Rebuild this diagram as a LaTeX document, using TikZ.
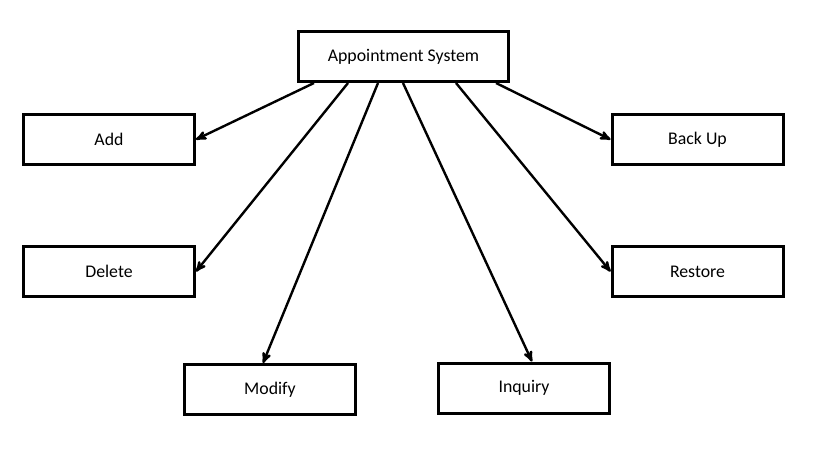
\documentclass[tikz,border=0pt]{standalone}
\usepackage{fontspec}
\setmainfont{Carlito}
\usetikzlibrary{arrows}
\tikzset{box/.style={draw, line width=3pt, minimum width=171pt, minimum height=50pt, inner sep=0pt, font=\fontsize{17.8}{21}\selectfont},
  link/.style={->, >=stealth', line width=2.4pt}}

\begin{document}
\begin{tikzpicture}[x=1pt, y=-1pt]
        \useasboundingbox (0,0) rectangle (814,452);
        \node[box, minimum width=210pt] (sys) at (403.5, 56.5) {Appointment System};
        \node[box] (add) at (109, 139.5) {Add};
        \node[box] (del) at (109, 271.5) {Delete};
        \node[box] (back) at (697.5, 139.5) {Back Up};
        \node[box] (rest) at (697.5, 271.5) {Restore};
        \node[box] (mod) at (270, 389.5) {Modify};
        \node[box] (inq) at (524, 388) {Inquiry};

        \draw[link] ([xshift=17pt]sys.south west) to (add.east);
        \draw[link] ([xshift=51pt]sys.south west) to (del.east);
        \draw[link] ([xshift=81pt]sys.south west) to ([xshift=-7pt]mod.north);
        \draw[link] ([xshift=106pt]sys.south west) to ([xshift=8pt]inq.north);
        \draw[link] ([xshift=159pt]sys.south west) to (rest.west);
        \draw[link] ([xshift=199pt]sys.south west) to (back.west);
      \end{tikzpicture}
\end{document}
